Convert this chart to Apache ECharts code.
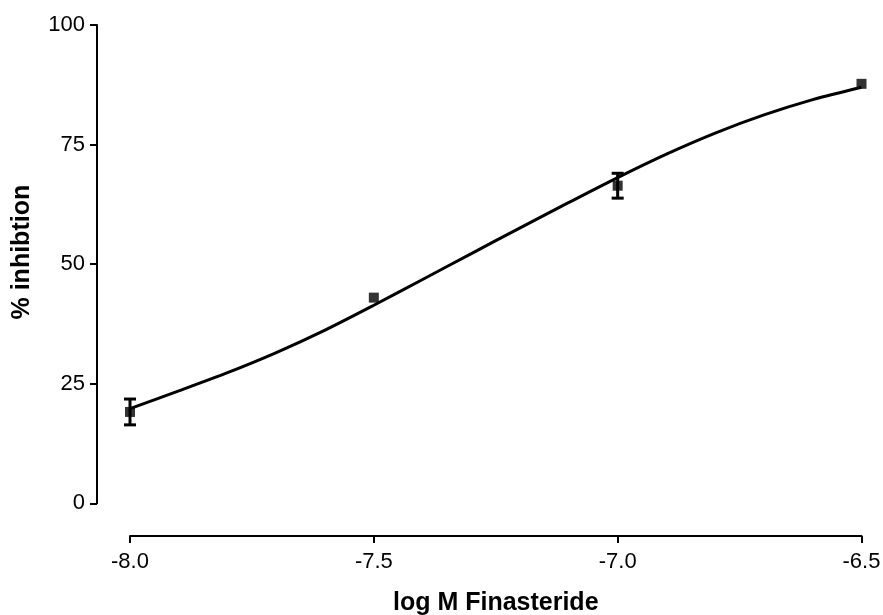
<!DOCTYPE html>
<html>
<head>
<meta charset="utf-8">
<script src="https://cdn.jsdelivr.net/npm/echarts@6/dist/echarts.min.js"></script>
<style>html,body{margin:0;padding:0;background:#fff}#c{width:883px;height:615px}</style>
</head>
<body>
<div id="c"></div>
<script>
// Measured data points (log M, mean % inhibition, error low, error high)
var doseX = [-8.0, -7.5, -7.0, -6.5];
var meanY = [19.1, 43.0, 66.4, 87.7];
var errLow = [16.4, 43.0, 63.8, 87.7];
var errHigh = [21.8, 43.0, 69.0, 87.7];
// Fitted curve
var curveX = [-8.0, -7.9, -7.8, -7.7, -7.6, -7.5, -7.4, -7.3, -7.2, -7.1, -7.0, -6.9, -6.8, -6.7, -6.6, -6.5];
var curveY = [19.8, 23.5, 27.3, 31.5, 36.2, 41.4, 46.8, 52.2, 57.6, 62.9, 68.1, 73.0, 77.4, 81.2, 84.4, 87.0];
var xTicks = [-8.0, -7.5, -7.0, -6.5];
var yTicks = [0, 25, 50, 75, 100];

var chart = echarts.init(document.getElementById('c'), null, {renderer: 'canvas'});
var font = 'Liberation Sans, Arial, sans-serif';
var curveData = curveX.map(function (x, i) { return [x, curveY[i]]; });
var pointData = doseX.map(function (x, i) { return [x, meanY[i]]; });
var errData = doseX.map(function (x, i) { return [x, errLow[i], errHigh[i]]; });

chart.setOption({
  animation: false,
  backgroundColor: '#fff',
  grid: {left: 130, right: 21.5, top: 25, bottom: 111.7, containLabel: false, outerBoundsMode: 'none'},
  xAxis: {
    type: 'value', min: -8.0, max: -6.5, interval: 0.5, offset: 32.7,
    name: 'log M Finasteride', nameLocation: 'middle', nameGap: 55,
    nameTextStyle: {fontFamily: font, fontSize: 25, fontWeight: 'bold', color: '#000'},
    axisLine: {show: true, onZero: false, lineStyle: {color: '#000', width: 2}},
    axisTick: {show: true, length: 7, lineStyle: {color: '#000', width: 2}},
    axisLabel: {color: '#000', fontFamily: font, fontSize: 22, margin: 15,
      formatter: function (v) { return v.toFixed(1); },
      customValues: xTicks},
    splitLine: {show: false}
  },
  yAxis: {
    type: 'value', min: 0, max: 100, interval: 25, offset: 33,
    name: '% inhibtion', nameLocation: 'middle', nameGap: 62,
    nameTextStyle: {fontFamily: font, fontSize: 25, fontWeight: 'bold', color: '#000', padding: [0, 0, 0, 24]},
    axisLine: {show: true, onZero: false, lineStyle: {color: '#000', width: 2}},
    axisTick: {show: true, length: 7, lineStyle: {color: '#000', width: 2}},
    axisLabel: {color: '#000', fontFamily: font, fontSize: 22, margin: 12},
    splitLine: {show: false}
  },
  series: [
    {
      type: 'line', data: curveData, smooth: 0.3, showSymbol: false, symbol: 'none',
      lineStyle: {color: '#000', width: 3}, z: 2, clip: false
    },
    {
      type: 'custom', data: errData, z: 3, clip: false,
      renderItem: function (params, api) {
        var x = api.value(0);
        if (api.value(1) === api.value(2)) { return null; }
        var lo = api.coord([x, api.value(1)]);
        var hi = api.coord([x, api.value(2)]);
        var hw = 6;
        var st = {stroke: '#000', lineWidth: 3};
        return {
          type: 'group',
          children: [
            {type: 'line', shape: {x1: lo[0], y1: lo[1], x2: hi[0], y2: hi[1]}, style: st},
            {type: 'line', shape: {x1: lo[0] - hw, y1: lo[1], x2: lo[0] + hw, y2: lo[1]}, style: st},
            {type: 'line', shape: {x1: hi[0] - hw, y1: hi[1], x2: hi[0] + hw, y2: hi[1]}, style: st}
          ]
        };
      }
    },
    {
      type: 'scatter', data: pointData, symbol: 'rect', symbolSize: 10,
      itemStyle: {color: '#000'}, z: 4, clip: false
    }
  ]
});
</script>
</body>
</html>
